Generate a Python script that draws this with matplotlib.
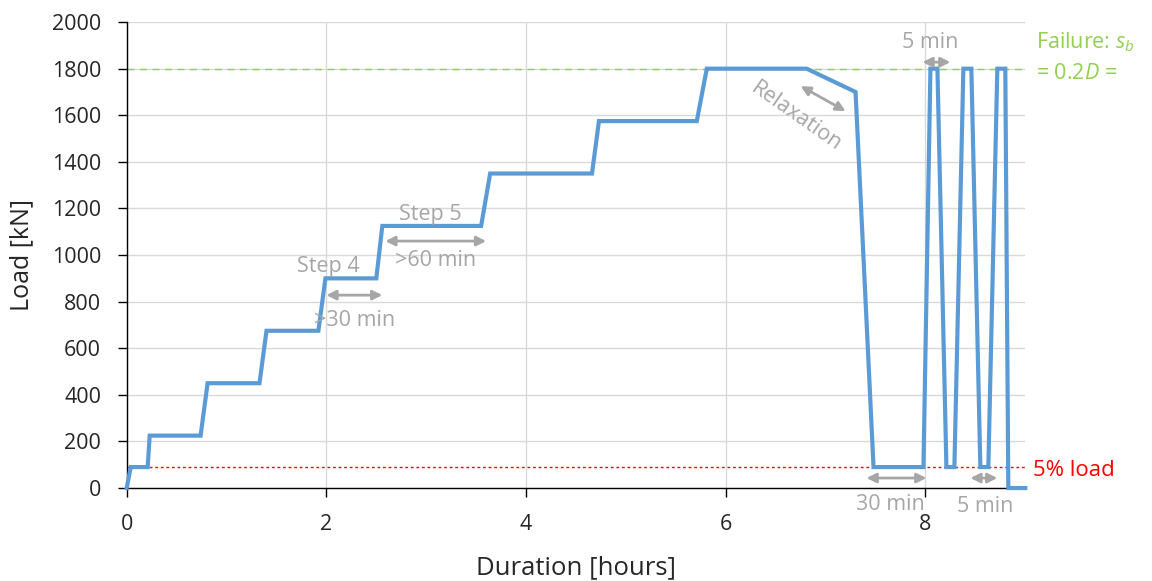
import matplotlib
matplotlib.use("Agg")
import matplotlib.pyplot as plt

# Data
time_h = [0.0, 0.04, 0.21, 0.23, 0.74, 0.81, 1.33, 1.40, 1.92, 1.99, 2.50, 2.56,
          3.55, 3.64, 4.66, 4.73, 5.71, 5.81, 6.81, 7.30, 7.48, 7.98, 8.05, 8.12,
          8.21, 8.29, 8.38, 8.46, 8.55, 8.63, 8.72, 8.80, 8.83, 9.0]
load_kN = [0, 90, 90, 225, 225, 450, 450, 675, 675, 900, 900, 1125,
           1125, 1350, 1350, 1575, 1575, 1800, 1800, 1700, 90, 90, 1800, 1800,
           90, 90, 1800, 1800, 90, 90, 1800, 1800, 0, 0]
failure_load = 1800
five_pct_load = 90
x_ticks = [0, 2, 4, 6, 8]
y_ticks = list(range(0, 2001, 200))

plt.rcParams['font.family'] = ['Open Sans', 'DejaVu Sans']
plt.rcParams['mathtext.fontset'] = 'custom'
plt.rcParams['mathtext.it'] = 'Open Sans:italic'
plt.rcParams['mathtext.rm'] = 'Open Sans'

fig = plt.figure(figsize=(11.52, 5.81), dpi=100)
ax = fig.add_axes([0.110, 0.160, 0.780, 0.802])

blue = '#5B9BD5'
gray = '#A6A6A6'
green = '#92D050'
red = '#FF0000'

ax.axhline(failure_load, color=green, lw=1.0, ls=(0, (5, 4)), zorder=2)
ax.axhline(five_pct_load, color=red, lw=1.0, ls=(0, (2, 2)), zorder=2)
ax.plot(time_h, load_kN, color=blue, lw=3.0, zorder=3, solid_joinstyle='miter', clip_on=False)

ax.set_xlim(0, 9)
ax.set_ylim(0, 2000)
ax.set_xticks(x_ticks)
ax.set_yticks(y_ticks)
ax.grid(True, color='#D9D9D9', lw=1.0, zorder=0)
ax.set_axisbelow(True)
for s in ['top', 'right']:
    ax.spines[s].set_visible(False)
for s in ['left', 'bottom']:
    ax.spines[s].set_color('black')
    ax.spines[s].set_linewidth(1.0)
ax.tick_params(axis='both', labelsize=15.5, length=6.5, width=1, color='black',
               direction='out', labelcolor='#262626')
ax.tick_params(axis='x', pad=12)
ax.tick_params(axis='y', pad=12)
ax.set_xlabel('Duration [hours]', fontsize=18.5, color='#262626')
ax.xaxis.set_label_coords(0.5, -0.145)
ax.set_ylabel('Load [kN]', fontsize=18, color='#262626')
ax.yaxis.set_label_coords(-0.103, 0.5)

fs = 15.5
def darrow(x0, x1, y0, y1):
    ax.annotate('', xy=(x1, y1), xytext=(x0, y0),
                arrowprops=dict(arrowstyle='<|-|>', color=gray, lw=2.0,
                                mutation_scale=14, shrinkA=0, shrinkB=0),
                annotation_clip=False, zorder=4)

ax.text(2.02, 950, 'Step 4', color=gray, fontsize=fs, ha='center', va='center')
darrow(2.0, 2.56, 828, 828)
ax.text(2.28, 720, '>30 min', color=gray, fontsize=fs, ha='center', va='center')
ax.text(3.04, 1175, 'Step 5', color=gray, fontsize=fs, ha='center', va='center')
darrow(2.59, 3.60, 1060, 1060)
ax.text(3.09, 975, '>60 min', color=gray, fontsize=fs, ha='center', va='center')
ax.text(6.71, 1592, 'Relaxation', color=gray, fontsize=fs, ha='center', va='center', rotation=-35)
darrow(6.75, 7.2, 1725, 1618)
ax.text(8.05, 1914, '5 min', color=gray, fontsize=fs, ha='center', va='center')
darrow(7.97, 8.25, 1828, 1828)
darrow(7.41, 8.01, 43, 43)
ax.text(7.65, -70, '30 min', color=gray, fontsize=fs, ha='center', va='center')
darrow(8.45, 8.72, 43, 43)
ax.text(8.6, -80, '5 min', color=gray, fontsize=fs, ha='center', va='center')

ax.text(9.11, 1914, 'Failure: $s_b$', color=green, fontsize=15.5, ha='left', va='center')
ax.text(9.11, 1780, '= 0.2$D$ =', color=green, fontsize=15.5, ha='left', va='center')
ax.text(9.08, 77, '5% load', color=red, fontsize=16, ha='left', va='center')

fig.savefig('out.png', dpi=100)
